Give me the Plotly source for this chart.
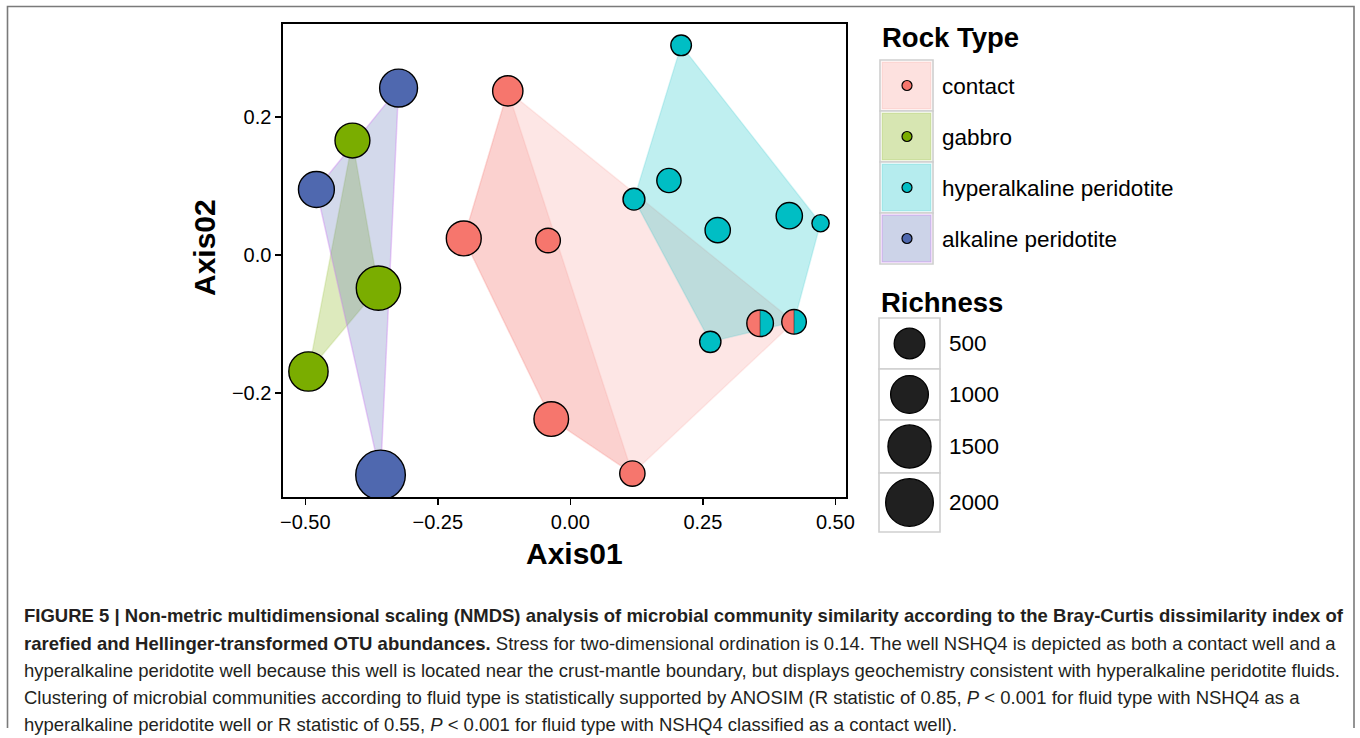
import numpy as np
import plotly.graph_objects as go

# ---------------- data ----------------
contact_x = [-0.118, -0.201, -0.042, -0.036, 0.117]
contact_y = [0.238, 0.024, 0.021, -0.238, -0.317]
contact_rich = [481, 777, 221, 755, 246]

gabbro_x = [-0.411, -0.362, -0.494]
gabbro_y = [0.166, -0.048, -0.169]
gabbro_rich = [777, 1620, 1132]

hyper_x = [0.209, 0.120, 0.186, 0.278, 0.413, 0.472, 0.264]
hyper_y = [0.304, 0.081, 0.108, 0.036, 0.057, 0.046, -0.126]
hyper_rich = [109, 139, 210, 246, 286, 60, 124]

alk_x = [-0.324, -0.479, -0.358]
alk_y = [0.242, 0.095, -0.319]
alk_rich = [1011, 851, 2237]

# NSHQ4: both contact and hyperalkaline peridotite
nshq4_x = [0.358, 0.422]
nshq4_y = [-0.099, -0.097]
nshq4_rich = [299, 221]

rock_types = ["contact", "gabbro", "hyperalkaline peridotite", "alkaline peridotite"]
richness_breaks = [500, 1000, 1500, 2000]
x_ticks = [-0.5, -0.25, 0.0, 0.25, 0.5]
x_ticklabels = ["\u22120.50", "\u22120.25", "0.00", "0.25", "0.50"]
y_ticks = [-0.2, 0.0, 0.2]
y_ticklabels = ["\u22120.2", "0.0", "0.2"]

caption_lines = [
    "<b>FIGURE 5 | Non-metric multidimensional scaling (NMDS) analysis of microbial community similarity according to the Bray-Curtis dissimilarity index of</b>",
    "<b>rarefied and Hellinger-transformed OTU abundances.</b> Stress for two-dimensional ordination is 0.14. The well NSHQ4 is depicted as both a contact well and a",
    "hyperalkaline peridotite well because this well is located near the crust-mantle boundary, but displays geochemistry consistent with hyperalkaline peridotite fluids.",
    "Clustering of microbial communities according to fluid type is statistically supported by ANOSIM (R statistic of 0.85, <i>P</i> &lt; 0.001 for fluid type with NSHQ4 as a",
    "hyperalkaline peridotite well or R statistic of 0.55, <i>P</i> &lt; 0.001 for fluid type with NSHQ4 classified as a contact well).",
]

# ---------------- style ----------------
W, H = 1360, 738
PX0, PX1 = 283, 846
PY0, PY1 = 24, 497
X_RANGE = [-0.542, 0.520]
Y_RANGE = [-0.351, 0.335]
FONT = "Liberation Sans, Arial, sans-serif"

COL = {
    "contact": (246, 118, 109),
    "gabbro": (122, 173, 0),
    "hyper": (0, 190, 196),
    "alk": (79, 104, 175),
}
FILL_ALPHA = {"contact": 0.18, "gabbro": 0.26, "hyper": 0.25, "alk": 0.25}
EDGE = {"contact": "rgba(246,118,109,0.12)", "gabbro": "rgba(122,173,0,0.15)",
        "hyper": "rgba(0,190,196,0.15)", "alk": "rgba(205,130,240,0.40)"}


def rgb(c):
    return "rgb(%d,%d,%d)" % c


def rgba(c, a):
    return "rgba(%d,%d,%d,%.3f)" % (c[0], c[1], c[2], a)


def diam(v):
    v = np.asarray(v, dtype=float)
    return 16.3 + 34.8 * np.sqrt(np.clip((v - 50) / 2200.0, 0, None))


def hull(xs, ys):
    pts = sorted(set(zip(xs, ys)))
    if len(pts) <= 2:
        return pts

    def cross(o, a, b):
        return (a[0] - o[0]) * (b[1] - o[1]) - (a[1] - o[1]) * (b[0] - o[0])

    lower, upper = [], []
    for p in pts:
        while len(lower) >= 2 and cross(lower[-2], lower[-1], p) <= 0:
            lower.pop()
        lower.append(p)
    for p in reversed(pts):
        while len(upper) >= 2 and cross(upper[-2], upper[-1], p) <= 0:
            upper.pop()
        upper.append(p)
    return lower[:-1] + upper[:-1]


def px(x):
    return x / W


def py(y):
    return 1 - y / H


fig = go.Figure()

# ---------------- hulls ----------------
hull_sets = [
    ("contact", contact_x, contact_y),
    ("contact", contact_x + nshq4_x, contact_y + nshq4_y),
    ("hyper", hyper_x + nshq4_x, hyper_y + nshq4_y),
    ("gabbro", gabbro_x, gabbro_y),
    ("alk", alk_x, alk_y),
]
for key, xs, ys in hull_sets:
    h = hull(xs, ys)
    hx = [p[0] for p in h] + [h[0][0]]
    hy = [p[1] for p in h] + [h[0][1]]
    fig.add_trace(go.Scatter(x=hx, y=hy, mode="lines", fill="toself",
                             fillcolor=rgba(COL[key], FILL_ALPHA[key]),
                             line=dict(color=EDGE[key], width=1.5),
                             hoverinfo="skip", showlegend=False))

# ---------------- points ----------------
LW = 1.4
for key, xs, ys, rich in [("alk", alk_x, alk_y, alk_rich),
                          ("gabbro", gabbro_x, gabbro_y, gabbro_rich),
                          ("contact", contact_x, contact_y, contact_rich),
                          ("hyper", hyper_x, hyper_y, hyper_rich)]:
    fig.add_trace(go.Scatter(x=xs, y=ys, mode="markers",
                             marker=dict(color=rgb(COL[key]), size=list(diam(rich) - LW),
                                         opacity=1, line=dict(color="black", width=LW)),
                             hoverinfo="skip", showlegend=False))

# NSHQ4 split markers (half contact, half hyperalkaline)
sx = (PX1 - PX0) / (X_RANGE[1] - X_RANGE[0])
sy = (PY1 - PY0) / (Y_RANGE[1] - Y_RANGE[0])
for cx, cy, d in zip(nshq4_x, nshq4_y, diam(nshq4_rich) - LW):
    r = d / 2.0
    for key, t0, t1 in [("contact", np.pi / 2, 3 * np.pi / 2), ("hyper", -np.pi / 2, np.pi / 2)]:
        t = np.linspace(t0, t1, 40)
        xs = list(cx + r * np.cos(t) / sx) + [cx + r * np.cos(t0) / sx]
        ys = list(cy + r * np.sin(t) / sy) + [cy + r * np.sin(t0) / sy]
        fig.add_trace(go.Scatter(x=xs, y=ys, mode="lines", fill="toself",
                                 fillcolor=rgb(COL[key]), line=dict(width=0, color=rgb(COL[key])),
                                 hoverinfo="skip", showlegend=False))
    fig.add_trace(go.Scatter(x=[cx, cx], y=[cy - r / sy, cy + r / sy], mode="lines",
                             line=dict(color="rgba(0,0,0,0.6)", width=0.8),
                             hoverinfo="skip", showlegend=False))
fig.add_trace(go.Scatter(x=nshq4_x, y=nshq4_y, mode="markers",
                         marker=dict(color="rgba(0,0,0,0)", size=list(diam(nshq4_rich) - LW),
                                     opacity=1, line=dict(color="black", width=LW)),
                         hoverinfo="skip", showlegend=False))

# ---------------- axes ----------------
axis_common = dict(showgrid=False, zeroline=False, showline=True, mirror=True,
                   linecolor="black", linewidth=1.6, ticks="outside", ticklen=6,
                   tickwidth=1.5, tickcolor="black", automargin=False,
                   tickfont=dict(family=FONT, size=20, color="black"))
fig.update_xaxes(domain=[PX0 / W, PX1 / W], range=X_RANGE, tickvals=x_ticks,
                 ticktext=x_ticklabels, **axis_common)
fig.update_yaxes(domain=[1 - PY1 / H, 1 - PY0 / H], range=Y_RANGE, tickvals=y_ticks,
                 ticktext=y_ticklabels, **axis_common)

shapes = []
annots = []

# axis titles
annots.append(dict(text="<b>Axis01</b>", x=px(574), y=py(553), xref="paper", yref="paper",
                   showarrow=False, xanchor="center", yanchor="middle",
                   font=dict(family=FONT, size=30, color="black")))
annots.append(dict(text="<b>Axis02</b>", x=px(204), y=py(248), xref="paper", yref="paper",
                   showarrow=False, xanchor="center", yanchor="middle", textangle=-90,
                   font=dict(family=FONT, size=30, color="black")))

# ---------------- Rock Type legend ----------------
annots.append(dict(text="<b>Rock Type</b>", x=px(880), y=py(38), xref="paper", yref="paper",
                   showarrow=False, xanchor="left", yanchor="middle",
                   font=dict(family=FONT, size=27.5, color="black")))
keys = ["contact", "gabbro", "hyper", "alk"]
row_top = 60
row_h = 51
for i, (key, label) in enumerate(zip(keys, rock_types)):
    y0 = row_top + i * row_h
    y1 = y0 + row_h
    shapes.append(dict(type="rect", xref="paper", yref="paper",
                       x0=px(880), x1=px(933), y0=py(y1), y1=py(y0),
                       fillcolor="white", line=dict(color="#CFCFCF", width=1.6)))
    shapes.append(dict(type="rect", xref="paper", yref="paper",
                       x0=px(882), x1=px(931), y0=py(y1 - 2), y1=py(y0 + 2),
                       fillcolor=rgba(COL[key], FILL_ALPHA[key] + 0.04),
                       line=dict(color=EDGE[key], width=1.5)))
    cy = (y0 + y1) / 2
    shapes.append(dict(type="circle", xref="paper", yref="paper",
                       x0=px(907 - 5), x1=px(907 + 5), y0=py(cy + 5), y1=py(cy - 5),
                       fillcolor=rgb(COL[key]), line=dict(color="black", width=1.2)))
    annots.append(dict(text=label, x=px(940), y=py(cy + 1), xref="paper", yref="paper",
                       showarrow=False, xanchor="left", yanchor="middle",
                       font=dict(family=FONT, size=22.5, color="black")))

# ---------------- Richness legend ----------------
annots.append(dict(text="<b>Richness</b>", x=px(879), y=py(302), xref="paper", yref="paper",
                   showarrow=False, xanchor="left", yanchor="middle",
                   font=dict(family=FONT, size=27.5, color="black")))
rows = [(318, 369), (369, 420), (420, 473), (473, 532)]
for (y0, y1), v in zip(rows, richness_breaks):
    shapes.append(dict(type="rect", xref="paper", yref="paper",
                       x0=px(879), x1=px(940), y0=py(y1), y1=py(y0),
                       fillcolor="white", line=dict(color="#CFCFCF", width=1.6)))
    cy = (y0 + y1) / 2
    r = float(diam(v)) / 2 - 0.7
    shapes.append(dict(type="circle", xref="paper", yref="paper",
                       x0=px(909.5 - r), x1=px(909.5 + r), y0=py(cy + r), y1=py(cy - r),
                       fillcolor="#202020", line=dict(color="black", width=1.3)))
    annots.append(dict(text=str(v), x=px(947), y=py(cy), xref="paper", yref="paper",
                       showarrow=False, xanchor="left", yanchor="middle",
                       font=dict(family=FONT, size=22.5, color="black")))

# ---------------- frame ----------------
shapes.append(dict(type="path", xref="paper", yref="paper",
                   path="M %f,%f L %f,%f L %f,%f L %f,%f" % (px(7.5), py(728), px(7.5), py(6.5),
                                                            px(1354), py(6.5), px(1354), py(728)),
                   line=dict(color="#7A7A7A", width=1.6)))

# ---------------- caption ----------------
cap_y = [615, 643, 670, 697, 724]
for t, yy in zip(caption_lines, cap_y):
    annots.append(dict(text=t, x=px(22), y=py(yy), xref="paper", yref="paper",
                       showarrow=False, xanchor="left", yanchor="middle",
                       font=dict(family=FONT, size=18.5, color="#231F20")))

fig.update_layout(width=W, height=H, margin=dict(l=0, r=0, t=0, b=0),
                  paper_bgcolor="white", plot_bgcolor="white",
                  shapes=shapes, annotations=annots, showlegend=False,
                  font=dict(family=FONT))

fig.write_html("out.html", config={"displayModeBar": False, "staticPlot": True},
               post_script="document.body.style.margin='0';document.body.style.overflow='hidden';")
